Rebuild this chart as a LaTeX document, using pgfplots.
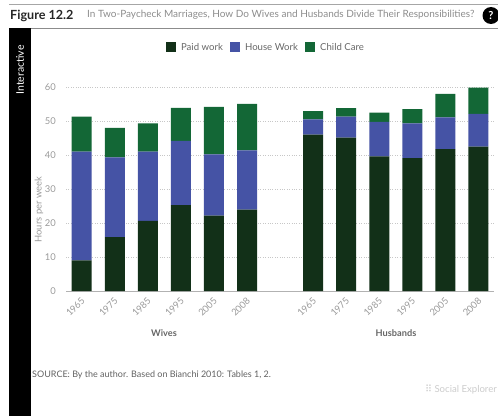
\documentclass[border=0pt]{standalone}
\usepackage{pgfplots}
\pgfplotsset{compat=1.18}
\usepackage{pgfplotstable}
\usepackage{fontspec}
\setmainfont{Lato}
\newfontfamily\symfont{DejaVu Sans}
\definecolor{paid}{HTML}{123018}
\definecolor{house}{HTML}{4553A5}
\definecolor{child}{HTML}{136736}
\definecolor{tick}{HTML}{9A9A9A}
\pgfplotstableread{
x paid house child
0 9.0 32.1 10.3
1 15.9 23.5 8.7
2 20.7 20.4 8.3
3 25.3 19.0 9.7
4 22.2 18.1 14.0
5 24.0 17.5 13.7
7 46.1 4.5 2.4
8 45.2 6.2 2.5
9 39.7 10.2 2.7
10 39.2 10.2 4.2
11 41.8 9.4 6.9
12 42.6 9.6 7.8
}\hours
\begin{document}
\begin{tikzpicture}[x=1pt,y=1pt]
\useasboundingbox (0,0) rectangle (498,416);
% page furniture
\draw[color=black!35,line width=0.8pt] (9,412) -- (498,412);
\draw[color=black!45,line width=1.2pt] (9,387.5) -- (498,387.5);
\fill[black] (9,0) rectangle (30.5,388);
\node[rotate=90,text=white,font=\fontsize{10.5}{12}\selectfont] at (20,346) {Interactive};
\node[anchor=west,inner sep=0pt,font=\fontsize{12.6}{15}\selectfont\bfseries,text=black!85] at (10,400.5) {Figure 12.2};
\node[anchor=west,font=\fontsize{10}{12}\selectfont,text=black!45,inner sep=0pt] at (87,401.5) {In Two-Paycheck Marriages, How Do Wives and Husbands Divide Their Responsibilities?};
\fill[black] (491,400.5) circle (8.5);
\node[text=white,font=\fontsize{11}{12}\selectfont\bfseries,inner sep=0pt] at (491,400.5) {?};
\begin{axis}[
  at={(66pt,125pt)},anchor=south west,
  scale only axis,width=428pt,height=203.5pt,
  xmin=-0.475,xmax=12.47,ymin=0,ymax=60,
  ybar stacked,bar width=20pt,
  axis y line=left,axis x line=bottom,
  axis line style={draw=black!30,-},
  y axis line style={draw=none},
  xtick={0,1,2,3,4,5,7,8,9,10,11,12},
  xticklabels={1965,1975,1985,1995,2005,2008,1965,1975,1985,1995,2005,2008},
  ytick={0,10,20,30,40,50,60},
  major tick length=0pt,
  /pgf/number format/assume math mode=true,
  ticklabel style={text=tick,font=\fontsize{9.4}{11}\selectfont},
  xticklabel style={xshift=1.5pt,yshift=-8pt,rotate=45,anchor=east,inner sep=0pt},
  yticklabel style={inner sep=1pt,xshift=-9pt},
  ymajorgrids,
  grid style={draw=black!22,dotted,line width=0.7pt},
  ylabel={Hours per week},
  ylabel style={at={(rel axis cs:0,0.4)},anchor=center,yshift=27pt,text=tick,font=\fontsize{9.4}{11}\selectfont},
  legend style={at={(0.467,1.194)},anchor=center,draw=none,fill=none,legend columns=3,
    font=\fontsize{9.6}{11}\selectfont,text=black!60,
    /tikz/every odd column/.append style={column sep=3pt},
    /tikz/every even column/.append style={column sep=5pt}},
  legend image code/.code={\fill[#1] (0cm,-0.13cm) rectangle (0.36cm,0.21cm);},
  clip=false,
]
\addplot[fill=paid,draw=none] table[x=x,y=paid]{\hours};
\addplot[fill=house,draw=none] table[x=x,y=house]{\hours};
\addplot[fill=child,draw=none] table[x=x,y=child]{\hours};
\legend{Paid work,House Work,Child Care}
\end{axis}
\node[font=\fontsize{9.2}{10}\selectfont\bfseries,text=black!60] at (164,83) {Wives};
\node[font=\fontsize{9.2}{10}\selectfont\bfseries,text=black!60] at (396,83) {Husbands};
\node[anchor=west,inner sep=0pt,font=\fontsize{9}{10}\selectfont,text=black!62] at (32,41) {SOURCE: By the author. Based on Bianchi 2010: Tables 1, 2.};
\node[anchor=east,inner sep=0pt,font=\fontsize{9.6}{10}\selectfont,text=black!20] at (497,26) {{\symfont ⠿} Social Explorer};
\end{tikzpicture}
\end{document}
